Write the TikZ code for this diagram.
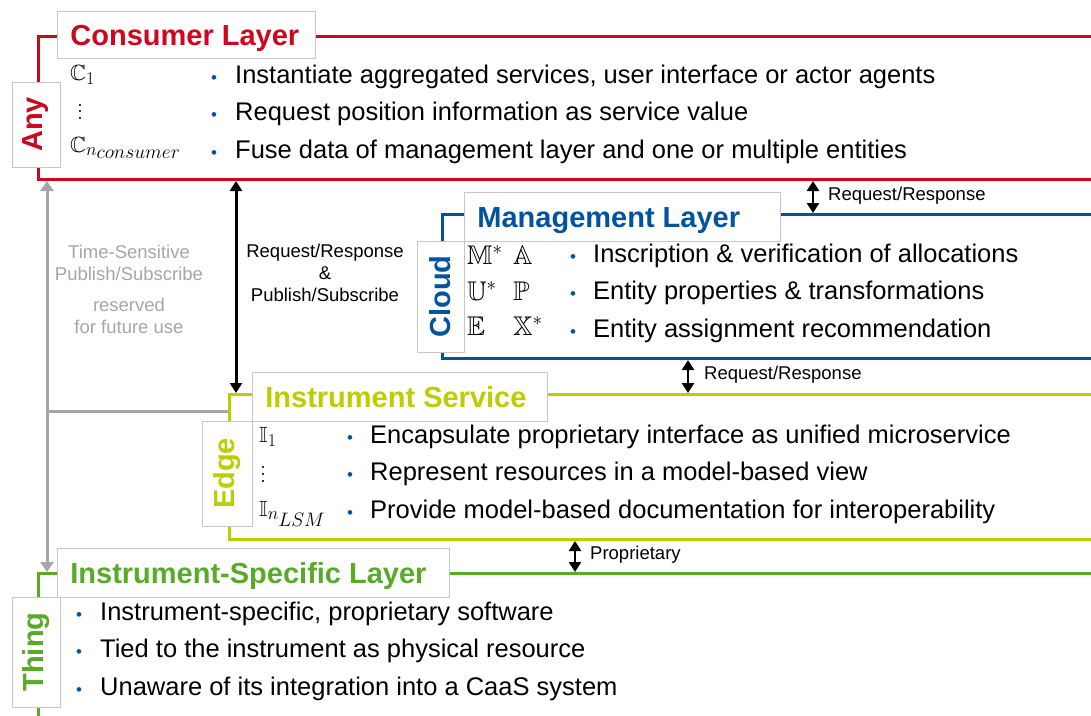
\RequirePackage{fix-cm}
\documentclass[tikz,border=0pt]{standalone}
\usepackage[no-math]{fontspec}
\setmainfont{Liberation Sans}
\usepackage{amsmath,amssymb}
\usetikzlibrary{arrows.meta}

% scalable blackboard letters
\DeclareFontFamily{U}{msb}{}
\DeclareFontShape{U}{msb}{m}{n}{<-6> msbm5 <6-8> msbm7 <8-> msbm10}{}
\DeclareMathSizes{22}{22}{18}{19.5}
\DeclareMathSizes{27}{27}{19}{15}

\definecolor{rwthRed}{HTML}{CC071E}
\definecolor{rwthBlue}{HTML}{00549F}
\definecolor{rwthMay}{HTML}{BDCD00}
\definecolor{rwthGreen}{HTML}{57AB27}
\definecolor{lineGray}{HTML}{A6A6A6}

\newcommand{\bodyFont}{\fontsize{25.5}{30}\selectfont}
\newcommand{\headFont}{\fontsize{29}{34}\selectfont\bfseries}
\newcommand{\msgFont}{\fontsize{18.5}{22}\selectfont}
\newcommand{\colDots}{\vbox{\baselineskip 6.7pt \lineskiplimit 0pt \hbox{$.$}\hbox{$.$}\hbox{$.$}}}

\tikzstyle{layer}=[rectangle, line width=3pt, inner sep=0, anchor=north west]
\tikzstyle{titleBox}=[rectangle, fill=white, draw=black!22, line width=0.8pt, anchor=north west, inner xsep=13pt, inner ysep=0, text height=34pt, text depth=13pt, font=\headFont]
\tikzstyle{sideBox}=[rectangle, fill=white, draw=black!22, line width=0.8pt, rotate=90, inner sep=0, font=\headFont]
\tikzstyle{item}=[anchor=base west, inner sep=0, font=\bodyFont]
\tikzstyle{dot}=[anchor=base west, inner sep=0, font=\fontsize{17}{20}\selectfont, text=rwthBlue]
\tikzstyle{sym}=[anchor=base west, inner sep=0, font=\fontsize{22}{26}\selectfont]
\tikzstyle{bigSym}=[anchor=base west, inner sep=0, font=\fontsize{27}{32}\selectfont]
\tikzstyle{msg}=[inner sep=0, font=\msgFont, align=center]
\tikzstyle{dblArrow}=[{Triangle[length=10pt,width=12pt]}-{Triangle[length=10pt,width=12pt]}, line width=2.5pt, black]
\tikzstyle{tsnArrow}=[{Triangle[length=10pt,width=13pt]}-{Triangle[length=10pt,width=13pt]}, line width=3pt, lineGray]

\begin{document}
\begin{tikzpicture}[x=1pt, y=-1pt]

	\useasboundingbox (0,0) rectangle (1091,715);
	\clip (0,0) rectangle (1091,715);

	% Rahmen der Schichten
	\node(consumer) at (37,35) [layer, draw=rwthRed, minimum width=1080pt, minimum height=143pt] {};
	\node(management) at (441,213) [layer, draw=rwthBlue, minimum width=680pt, minimum height=144pt] {};
	\node(service) at (228,393) [layer, draw=rwthMay, minimum width=880pt, minimum height=145pt] {};
	\node(specific) at (37,572) [layer, draw=rwthGreen, minimum width=1080pt, minimum height=160pt] {};

	% Titel
	\node(consumerTitle) at (57,11) [titleBox, text=rwthRed, minimum height=47pt] {\makebox[232pt][l]{Consumer Layer}};
	\node(managementTitle) at (464,192) [titleBox, text=rwthBlue, minimum height=49pt] {\makebox[290pt][l]{Management Layer}};
	\node(serviceTitle) at (252,372) [titleBox, text=rwthMay, minimum height=49pt] {\makebox[269pt][l]{Instrument Service}};
	\node(specificTitle) at (57,548) [titleBox, text=rwthGreen, minimum height=49pt] {\makebox[366pt][l]{Instrument-Specific Layer}};

	% Seitliche Beschriftung
	\node(any) at (36,124.5) [sideBox, text=rwthRed, minimum width=85pt, minimum height=48pt] {Any};
	\node(cloud) at (440.5,296.5) [sideBox, text=rwthBlue, minimum width=111pt, minimum height=47pt] {Cloud};
	\node(edge) at (227,473.5) [sideBox, text=rwthMay, minimum width=105pt, minimum height=50pt] {Edge};
	\node(thing) at (36,652) [sideBox, text=rwthGreen, minimum width=110pt, minimum height=48pt] {Thing};

	% Consumer Layer
	\node(c1) at (70,80) [sym] {$\mathbb{C}_1$};
	\node(c2) at (77,119.5) [sym] {\colDots};
	\node(c3) at (70,152) [sym] {$\mathbb{C}_{n_{consumer}}$};
	\foreach \txt [count=\i] in {{Instantiate aggregated services, user interface or actor agents},
		{Request position information as service value},
		{Fuse data of management layer and one or multiple entities}}
		{
			\node(cDot\i) at (211,45.5+37.5*\i) [dot] {•};
			\node(cItem\i) at (235,45.5+37.5*\i) [item] {\txt};
		}

	% Management Layer
	\node(m1) at (467,264) [bigSym] {$\mathbb{M}^*$};
	\node(a1) at (513,264) [bigSym] {$\mathbb{A}$};
	\node(u1) at (467,300) [bigSym] {$\mathbb{U}^*$};
	\node(p1) at (513,300) [bigSym] {$\mathbb{P}$};
	\node(e1) at (467,335) [bigSym] {$\mathbb{E}$};
	\node(x1) at (513,335) [bigSym] {$\mathbb{X}^*$};
	\foreach \txt [count=\i] in {{Inscription \& verification of allocations},
		{Entity properties \& transformations},
		{Entity assignment recommendation}}
		{
			\node(mDot\i) at (570,224.5+37.5*\i) [dot] {•};
			\node(mItem\i) at (593,224.5+37.5*\i) [item] {\txt};
		}

	% Instrument Service
	\node(i1) at (259,442) [sym] {$\mathbb{I}_1$};
	\node(i2) at (260,482) [sym] {\colDots};
	\node(i3) at (259,516) [sym] {$\mathbb{I}_{n_{LSM}}$};
	\foreach \txt [count=\i] in {{Encapsulate proprietary interface as unified microservice},
		{Represent resources in a model-based view},
		{Provide model-based documentation for interoperability}}
		{
			\node(sDot\i) at (347,405.5+37.5*\i) [dot] {•};
			\node(sItem\i) at (370,405.5+37.5*\i) [item] {\txt};
		}

	% Instrument-Specific Layer
	\foreach \txt [count=\i] in {{Instrument-specific, proprietary software},
		{Tied to the instrument as physical resource},
		{Unaware of its integration into a CaaS system}}
		{
			\node(tDot\i) at (76,582.5+37.5*\i) [dot] {•};
			\node(tItem\i) at (100,582.5+37.5*\i) [item] {\txt};
		}

	% Verbindungen
	\coordinate (rrTop) at (813,0);
	\coordinate (rrMid) at (688,0);
	\coordinate (prop) at (575,0);
	\coordinate (pubSub) at (236,0);
	\coordinate (tsn) at (47,0);
	\coordinate (tsnJoin) at (47,411);

	\draw[dblArrow] (rrTop |- consumer.south) -- (rrTop |- management.north);
	\draw[dblArrow] (rrMid |- management.south) -- (rrMid |- service.north);
	\draw[dblArrow] (prop |- service.south) -- (prop |- specific.north);
	\draw[dblArrow, line width=3pt] (pubSub |- consumer.south) -- (pubSub |- service.north);
	\draw[tsnArrow] (tsn |- consumer.south) -- (tsn |- specific.north);
	\draw[line width=3pt, lineGray] (tsnJoin) -- (tsnJoin -| service.west);

	\node(rrTopLbl) at (828,196) [msg, anchor=west] {Request/Response};
	\node(rrMidLbl) at (704,375) [msg, anchor=west] {Request/Response};
	\node(propLbl) at (590,555) [msg, anchor=west] {Proprietary};
	\node(pubSubLbl) at (325,273) [msg] {Request/Response\\\&\\Publish/Subscribe};
	\node(tsnLbl) at (129,289) [msg, text=lineGray] {Time-Sensitive\\Publish/Subscribe\\[9pt]reserved\\for future use};

\end{tikzpicture}
\end{document}
